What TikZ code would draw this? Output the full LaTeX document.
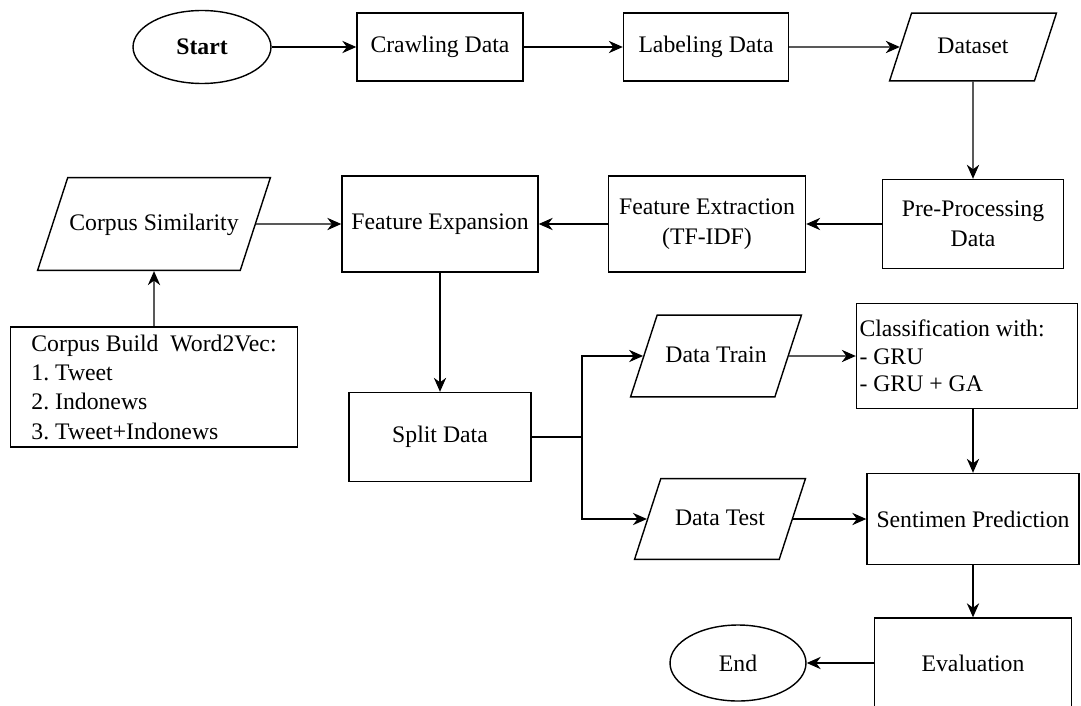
\documentclass[tikz,border=0pt]{standalone}
\usepackage{fontspec}
\setmainfont{Liberation Serif}
\usetikzlibrary{shapes.geometric,arrows.meta}

\begin{document}
\frenchspacing
\begin{tikzpicture}[x=0.02cm,y=-0.02cm,line width=0.8pt,
  font=\fontsize{13.5}{17}\selectfont,
  procbox/.style={draw,rectangle,align=center,inner sep=2pt},
  iobox/.style={draw,trapezium,trapezium left angle=72,trapezium right angle=108,
    align=flush center,text height=10pt,text depth=3pt,inner xsep=0pt},
  termbox/.style={draw,ellipse,inner sep=1pt},
  flow/.style={-{Stealth[length=8pt,width=7pt]}}]
\useasboundingbox (0,0) rectangle (1081,706);
\clip (0,0) rectangle (1081,706);
% top row
\node[termbox,minimum width=2.76cm,minimum height=1.46cm] (start) at (202,47) {\textbf{Start}};
\node[procbox,minimum width=3.32cm,minimum height=1.36cm] (crawl) at (440,47) {Crawling Data};
\node[procbox,minimum width=3.30cm,minimum height=1.36cm] (label) at (706,47) {Labeling Data};
\node[iobox,text width=69.9pt,inner ysep=12.8pt] (dataset) at (973,47) {Dataset};
% second row
\node[procbox,minimum width=3.62cm,minimum height=1.78cm] (preproc) at (973,224) {Pre-Processing\\Data};
\node[procbox,minimum width=3.94cm,minimum height=1.92cm] (featext) at (707,224) {Feature Extraction\\(TF-IDF)};
\node[procbox,minimum width=3.92cm,minimum height=1.92cm] (featexp) at (440,224) {Feature Expansion};
\node[iobox,text width=98.2pt,inner ysep=19.9pt] (corpsim) at (154,224) {Corpus Similarity};
\node[procbox,minimum width=5.74cm,minimum height=2.40cm,align=left,
  font=\fontsize{13.5}{16.7}\selectfont]
  (corpbuild) at (154,387) {Corpus Build\ \ Word2Vec:\\1. Tweet\\2. Indonews\\3. Tweet+Indonews};
% split and classification
\node[procbox,minimum width=3.64cm,minimum height=1.78cm] (split) at (440,437) {Split Data};
\coordinate (fork) at (582,437);
\node[iobox,text width=67pt,inner ysep=16.8pt] (train) at (716,356) {Data Train};
\node[iobox,text width=67.4pt,inner ysep=16.5pt] (test) at (720,519) {Data Test};
\node[procbox,minimum width=4.42cm,minimum height=2.10cm,align=flush left,text width=4.3cm,inner xsep=1pt,
  font=\fontsize{13.5}{15.6}\selectfont] (classif) at (967,356) {Classification with:\\- GRU\\- GRU + GA};
\node[procbox,minimum width=4.24cm,minimum height=1.82cm] (sentimen) at (973,519) {Sentimen Prediction};
\node[procbox,minimum width=3.94cm,minimum height=1.80cm] (eval) at (973,663) {Evaluation};
\node[termbox,minimum width=2.72cm,minimum height=1.52cm] (end) at (738,663) {End};

\draw[flow] (start) -- (crawl);
\draw[flow] (crawl) -- (label);
\draw[flow] (label) -- (dataset);
\draw[flow] (dataset) -- (preproc);
\draw[flow] (preproc) -- (featext);
\draw[flow] (featext) -- (featexp);
\draw[flow] (corpsim) -- (featexp);
\draw[flow] (corpbuild) -- (corpsim);
\draw[flow] (featexp) -- (split);
\draw (split.east) -- (fork);
\draw[flow] (fork) |- (train.west);
\draw[flow] (fork) |- (test.west);
\draw[flow] (train) -- (classif);
\draw[flow] (test) -- (sentimen);
\draw[flow] (sentimen.north |- classif.south) -- (sentimen.north);
\draw[flow] (sentimen) -- (eval);
\draw[flow] (eval) -- (end);
\end{tikzpicture}
\end{document}
